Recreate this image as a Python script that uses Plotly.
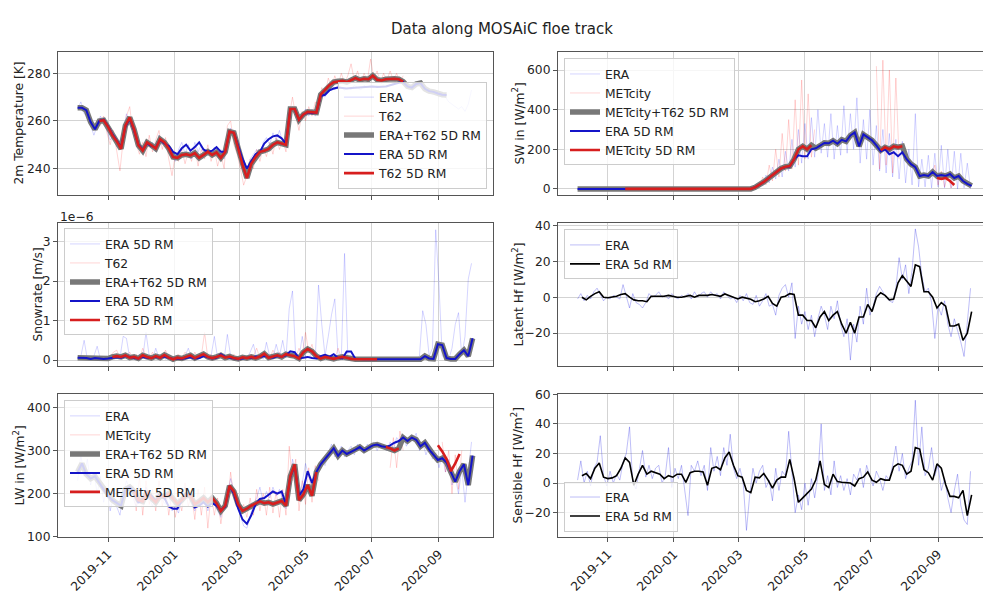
import pandas as pd
import plotly.graph_objects as go

N = None
RM_START, RM_STEP, N_RM = "2019-10-04", "4D", 92
RAW_START, RAW_STEP, N_RAW = "2019-10-04", "3D", 122
COMBO_END = "2020-08-20"

tick_dates = ["2019-11-01", "2020-01-01", "2020-03-01", "2020-05-01", "2020-07-01", "2020-09-01"]
tick_labels = ["2019-11", "2020-01", "2020-03", "2020-05", "2020-07", "2020-09"]

# ---------------- 2m temperature [K] ----------------
temp_era_rm = [265.5, 265.5, 264.5, 259.5, 256.5,
               260, 260.5, 257.8, 254.5, 252, 249, 257.5, 261, 256, 250, 248, 250.5, 249.5, 248.8, 252, 250.5,
               249.5, 247, 246, 248.5, 250, 247.5, 249, 251, 248, 247, 247.5, 249, 247, 247,
               255.5, 255,
               249.5, 244, 240, 243, 246, 247, 250.5, 252.3, 253.5, 253.9, 252.7, 250.5,
               265, 265, 260.5, 262.7, 263.5, 263.2, 263.5,
               270.5, 271, 272.8, 273.6, 274, 273.8, 273.6, 273.8, 274, 274, 274.2, 274.3, 274.5, 274.3, 274.3,
               274.5, 275, 275.6, 276, 276.3,
               274.5, 274, 275.5, 275.9, 273.5, 272.5, 272.2, 271.5, 271, 270.9,
               N, N, N, N, N, 271]
temp_t62_rm = [N, N, N, N, N,
               260, 260.3, 257.5, 254, 251.5, 248.3, 258, 261.5, 256.5, 249.8, 247.5, 251, 249.8, 248.4, 252.3, 251,
               248.4, 244.8, 244.5, 245.7, 246, 245.5, 246.5, 244.5, 245.7, 247.1, 245.7, 246.8, 244.5, 247,
               255.5, 255,
               248.4, 241.5, 236, 242, 244.8, 247, 247.5, 248.2, 250, 251, 250.5, 250,
               265, 265, 260.5, 262.7, 263.8, 263.5, 263.5,
               271, 272.9, 275, 276.3, 276.7, 276.8, 276.3, 277.3, 278, 277.2, 277.7, 277.5, 279, 277.3, 277,
               277.5, 277.7, 277.7, 277.5, 276.5,
               N, N, N, N, N, N, N, N, N, N, N, N, N, N, N, N]
temp_era_raw = [265, 268, 263, 262, 258, 254, 258, 262, 259, 256,
                252, 254, 249, 252, 255, 263, 260, 257, 252, 249,
                246, 252, 249, 251, 247, 254, 250, 252, 248, 246,
                243, 248, 251, 246, 250, 244, 251, 247, 250, 245,
                248, 246, 249, 246, 248, 244, 252, 257, 253, 250,
                246, 242, 238, 244, 246, 248, 245, 251, 253, 250,
                255, 252, 256, 251, 249, 258, 266, 263, 259, 262,
                265, 262, 265, 262, 268, 271, 270, 273, 275, 273,
                275, 274, 273, 274, 273, 275, 274, 273, 275, 274,
                275, 274, 275, 274, 275, 274, 275, 276, 277, 276,
                277, 274, 273, 275, 276, 275, 274, 272, 273, 271,
                272, 270, 271, 270, 268, 267, 266, 265, 266, 264,
                267, 273]
temp_t62_raw = [N, N, N, N, N, N, N,
                258, 262, 255,
                250, 256, 247, 239, 252, 262, 266, 255, 250, 246,
                251, 245, 254, 247, 252, 256, 248, 253, 244, 237,
                246, 243, 248, 242, 247, 243, 249, 241, 248, 244,
                250, 243, 248, 241, 246, 240, 258, 260, 250, 246,
                240, 233, 237, 244, 240, 248, 243, 249, 245, 251,
                246, 253, 248, 252, 247, 262, 270, 262, 256, 264,
                260, 266, 262, 268, 265, 274, 271, 278, 274, 279,
                275, 280, 276, 279, 284, 277, 281, 276, 280, 277,
                286, 278, 281, 276, 280, 277, 281, 277, 280, 276,
                279,
                N, N, N, N, N, N, N, N, N, N, N, N, N, N, N, N, N, N, N, N, N]

# ---------------- SW in [W/m2] ----------------
sw_era_rm = [0] * 41 + [8, 20, 35, 52, 70, 88, 103, 110, 113, 150,
                        170, 165, 165, 200, 205, 218, 232, 230, 243, 228,
                        248, 240, 270, 285, 215, 275, 262, 245, 220, 190,
                        200, 175, 185, 165, 185, 150, 125, 110, 65, 70,
                        65, 85, 65, 70, 65, 75, 55, 65, 40, 25, 15]
sw_met_rm = ([N] * 11 + [0] * 30 + [8, 20, 35, 52, 70, 88, 103, 112, 115]
             + [150, 200, 215, 200, 220] + [N] * 15 + [195, 210, 200, 215, 210, 215]
             + [N] * 7 + [55, 50, 55, 40, 20] + [N] * 4)
sw_era_raw = [0] * 53 + [2, 10, 5, 30, 15, 70, 30, 110, 50, 150,
                         60, 190, 90, 250, 110, 300, 130, 330, 150, 360,
                         160, 400, 180, 330, 160, 380, 150, 320, 170, 420,
                         180, 380, 200, 460, 130, 350, 150, 400, 120, 320,
                         90, 300, 80, 280, 60, 250, 50, 240, 30, 200,
                         20, 380, 10, 150, 10, 170, 5, 180, 10, 220,
                         5, 200, 5, 190, 0, 180, 5, 130, 0]
sw_met_raw = ([N] * 15 + [0] * 39
              + [5, 20, 10, 60, 20, 120, 40, 200, 60, 280, 90, 350, 100, 450, 120, 550, 150, 480, 160, 300]
              + [N] * 18 + [620, 100, 650, 120, 600, 80, 560, 150]
              + [N] * 9 + [60, 120, 20, 90, 10, 70, 5, 30] + [N] * 5)

# ---------------- Snowrate [1e-6 m/s] ----------------
snow_era_rm = ([0.06, 0.06, 0.05, 0.03, 0.05, 0.04, 0.03]
               + [0.04, 0.05, 0.07, 0.06, 0.10, 0.08, 0.05, 0.04, 0.08, 0.06,
                  0.05, 0.08, 0.06, 0.09, 0.05, 0.03, 0.04, 0.03, 0.05, 0.07,
                  0.04, 0.05, 0.10, 0.06, 0.04, 0.06, 0.15, 0.08, 0.06, 0.03,
                  0.02, 0.04, 0.06, 0.05, 0.09, 0.08, 0.10, 0.08, 0.06, 0.10,
                  0.08, 0.12, 0.22, 0.20, 0.05, 0.06, 0.08, 0.05, 0.04, 0.10,
                  0.13, 0.08, 0.15, 0.06, 0.04, 0.22, 0.22, 0.03, 0.02, 0.02,
                  0.02, 0.02, 0.02]
               + [0.02] * 10 + [0.10, 0.04, 0.03, 0.40, 0.38, 0.05, 0.03, 0.03, 0.15, 0.25, 0.10, 0.55])
snow_t62_rm = ([N] * 8
               + [0.08, 0.10, 0.08, 0.12, 0.06, 0.08, 0.04, 0.12, 0.08, 0.05,
                  0.10, 0.06, 0.13, 0.06, 0.02, 0.06, 0.04, 0.08, 0.12, 0.05,
                  0.10, 0.15, 0.08, 0.05, 0.08, 0.12, 0.06, 0.09, 0.05, 0.03,
                  0.07, 0.05, 0.08, 0.05, 0.09, 0.16, 0.06, 0.10, 0.12, 0.08,
                  0.15, 0.12, 0.10, 0.04, 0.20, 0.28, 0.22, 0.10, 0.04, 0.08,
                  0.05, 0.03, 0.06, 0.08, 0.06, 0.03, 0.02, 0.02, 0.02, 0.02,
                  0.02, 0.02]
               + [N] * 22)
snow_era_raw = [0.05, 0.1, 0.5, 0.02, 0.05, 0.1, 0.35, 0.02, 0.05, 0.1,
                0.02, 0.08, 0.15, 0.05, 0.6, 0.55, 0.05, 0.1, 0.02, 0.15,
                0.05, 0.7, 0.1, 0.02, 0.3, 0.05, 0.1, 0.02, 0.08, 0.02,
                0.1, 0.05, 0.02, 0.1, 0.3, 0.05, 0.02, 0.1, 0.05, 0.15,
                0.02, 0.1, 0.6, 0.05, 0.1, 0.02, 0.65, 0.1, 0.02, 0.08,
                0.02, 0.1, 0.05, 0.2, 0.4, 0.05, 0.15, 0.02, 0.45, 0.1,
                0.05, 0.4, 0.1, 0.5, 0.05, 1.3, 1.75, 0.1, 0.05, 0.6,
                0.1, 0.05, 0.2, 0.05, 1.9, 0.9, 0.1, 0.6, 1.15, 1.55,
                0.1, 0.05, 2.7, 0.1, 0.05, 0.02, 0.05, 0.02, 0.02, 0.02,
                0.02, 0.02, 0.02, 0.02, 0.02, 0.02, 0.02, 0.02, 0.02, 0.02,
                0.02, 0.02, 0.02, 0.05, 0.02, 0.1, 1.25, 0.9, 0.1, 0.3,
                3.3, 1.9, 0.1, 0.05, 0.02, 0.3, 0.9, 1.2, 0.1, 0.6,
                2.05, 2.45]
snow_t62_raw = ([N] * 10
                + [0.1, 0.2, 0.25, 0.05, 0.15, 0.1, 0.2, 0.05, 0.15, 0.02,
                   0.3, 0.1, 0.05, 0.2, 0.05, 0.15, 0.02, 0.25, 0.05, 0.1,
                   0.02, 0.15, 0.05, 0.2, 0.1, 0.02, 0.2, 0.05, 0.1, 0.7,
                   0.05, 0.15, 0.02, 0.1, 0.2, 0.05, 0.1, 0.02, 0.15, 0.05,
                   0.02, 0.1, 0.05, 0.15, 0.1, 0.3, 0.05, 0.2, 0.1, 0.05,
                   0.25, 0.1, 0.2, 0.05, 0.15, 0.2, 0.1, 0.05, 0.3, 0.1,
                   0.7, 0.2, 0.4, 0.05, 0.1, 0.02, 0.15, 0.05, 0.1, 0.02,
                   0.3, 0.05, 0.02, 0.05, 0.02, 0.02, 0.02, 0.02, 0.02, 0.02,
                   0.02, 0.02, 0.02]
                + [N] * 29)

# ---------------- Latent heat flux [W/m2] ----------------
lat_rm = [N, 0, -1.5, 0.5, 2, 3, 0, -0.3, 0.2, 0.5,
          1.5, 2, 0, -1.5, -2, -2, -2.5, 0.5, 0.5, 0.5,
          0.5, 1, 0.5, 0, 0, 0.5, 1, 0, 1, 1,
          1, 1.5, 1, 0.5, 1.8, 1, 0, -1, 0, -0.5,
          -1.2, -2.5, -2, -1, 0.5, -3.5, -5, 0, 0.5, 2,
          1.5, -10, -10, -13, -13, -17, -11, -8, -13, -10,
          -8, -15, -20, -14, -20, -11, -11, -4, -8, 0,
          2.5, 1, -1.5, -1, 8, 12, 9, 6, 18, 17,
          3, 3, 0, -6, -3, -5, -16, -16, -15, -24,
          -20, -8]
lat_raw = [-1, 2, -2, 1, -1, 3, 5, 1, -2, 0,
           -1, 1, 0, -1, 7, 0, -6, 2, -3, -4,
           -6, -3, 2, 0, 1, 3, 0, 1, -1, 2,
           0, -1, 1, 0, 2, -1, 3, 0, 2, 3,
           0, 3, 1, 2, -1, 3, 1, -1, 0, -3,
           1, -2, 2, -3, -4, 1, -5, -2, 2, -5,
           -4, -10, 1, 5, 7, 0, 8, -23, -5, -15,
           -8, -18, -10, -22, -12, -5, -10, -18, -5, -12,
           -2, -15, -22, -12, -35, -15, -25, -5, -15, 5,
           -10, -5, 2, 6, 3, 0, -2, -3, 5, 22,
           10, 18, 2, 15, 38, 28, 12, 3, 5, -3,
           -23, -5, -10, -2, -15, -22, -12, -18, -25, -33,
           -15, 5]

# ---------------- LW in [W/m2] ----------------
lw_era_rm = [250, 270, 245, 235, 240, 225, 210, 195, 185, 178,
             172, 210, 215, 205, 180, 185, 200, 195, 182, 200,
             190, 170, 165, 165, 185, 200, 200, 168, 172, 180,
             170, 178, 172, 162, 170, 218, 200, 165, 140, 130,
             150, 175, 188, 190, 198, 205, 200, 205, 175, 238,
             265, 195, 210, 252, 225, 250, 268, 280, 292, 305,
             288, 300, 292, 298, 302, 308, 300, 306, 312, 314,
             310, 308, 312, 318, 322, 330, 322, 330, 325, 310,
             318, 302, 290, 278, 282, 272, 250, 228, 252, 268,
             220, 288]
lw_met_rm = ([N] * 13
             + [205, 185, 182, 205, 190, 180, 195, 193, 200, 188,
                176, 185, 197, 195, 175, 182, 190, 180, 190, 178,
                160, 172, 218, 205, 175, 160, 165, 172, 177, 182,
                178, 180, 176, 180, 183, 172, 240, 268, 185, 198,
                220, 195, 250]
             + [N] * 15 + [308, 305, 300, 305] + [N] * 8
             + [312, 298, 280, 252, 270, 292] + [N] * 3)
lw_era_raw = [230, 290, 240, 280, 220, 250, 200, 240, 180, 210,
              160, 195, 170, 150, 200, 230, 210, 190, 170, 195,
              175, 215, 190, 170, 195, 210, 185, 175, 200, 160,
              170, 155, 190, 215, 195, 175, 160, 185, 170, 195,
              160, 185, 175, 160, 145, 175, 200, 235, 210, 180,
              150, 125, 120, 150, 175, 190, 215, 180, 205, 190,
              215, 195, 210, 185, 165, 200, 280, 250, 190, 225,
              270, 240, 215, 260, 250, 275, 265, 295, 315, 285,
              295, 310, 285, 300, 310, 290, 315, 300, 295, 315,
              305, 320, 300, 315, 305, 300, 320, 305, 330, 320,
              335, 310, 330, 325, 340, 300, 320, 290, 310, 280,
              295, 260, 290, 250, 280, 220, 240, 200, 260, 180,
              250, 320]
lw_met_raw = ([N] * 17
              + [220, 160, 240, 150, 230, 175, 210, 160, 230, 170,
                 215, 150, 200, 145, 190, 160, 225, 170, 200, 140,
                 210, 150, 215, 120, 200, 150, 190, 130, 180, 170,
                 250, 190, 200, 150, 175, 145, 190, 150, 210, 160,
                 200, 150, 215, 155, 205, 145, 210, 150, 310, 230,
                 280, 160, 230, 175, 260, 180, 265, 230]
              + [N] * 21 + [260, 330, 260, 345, 300] + [N] * 11
              + [320, 250, 300, 200, 290, 210, 300] + [N] * 3)

# ---------------- Sensible heat flux [W/m2] ----------------
sen_rm = [N, 5, 6.5, 3, 10, 13.5, 4, 3, 3.5, 5,
          10, 17, 14, -1.5, 6, 12, 6, 8, 7, 6,
          3, 5, 4, 6, 6, 0.5, 7, 8, 8, 7.5,
          -1.5, 10, 11, 9, 17, 21, 12, 5, 4, -5,
          -6.5, 4, 3.5, 6.5, 2, -3.5, 2, 4, 4, 16,
          3, -13, -10, -7, -4, 2, 15, -1, -3, 6,
          1, 0.5, 0.5, 0, -2, 3, 4, 7.5, 2, 0.5,
          3, 2, 2, 11, 13, 12, 6, 8, 24, 23,
          9, 7, 2, 13, 10, -1, -9, -9, -10, -5,
          -22, -8]
sen_raw = [2, 15, 0, 8, -2, 10, 14, 32, 5, -2,
           8, 0, 6, 2, 14, 20, 38, 0, -4, 10,
           22, 4, 12, 3, 10, 12, 0, 5, 24, -3,
           10, 3, 12, -5, -22, 12, 8, 15, 5, 12,
           -5, 24, 8, 18, 5, 24, 12, 33, 10, 3,
           10, 0, -32, -8, 10, 0, 8, 12, -3, 2,
           -12, 10, -5, 8, 5, 35, 10, -20, -8, -18,
           0, -15, 3, -10, 5, 40, -5, 5, -8, 15,
           -3, 5, -5, 3, -8, 6, 2, 10, -3, 12,
           5, -2, 8, 3, -5, 5, 2, 12, 25, 8,
           20, 3, 10, 15, 56, 12, 38, 5, 10, 24,
           5, 12, -5, 3, -10, -20, -5, 6, -15, -25,
           -28, 8]

for name, arr, n in [("temp_era_rm", temp_era_rm, N_RM), ("temp_t62_rm", temp_t62_rm, N_RM),
                     ("temp_era_raw", temp_era_raw, N_RAW), ("temp_t62_raw", temp_t62_raw, N_RAW),
                     ("sw_era_rm", sw_era_rm, N_RM), ("sw_met_rm", sw_met_rm, N_RM),
                     ("sw_era_raw", sw_era_raw, N_RAW), ("sw_met_raw", sw_met_raw, N_RAW),
                     ("snow_era_rm", snow_era_rm, N_RM), ("snow_t62_rm", snow_t62_rm, N_RM),
                     ("snow_era_raw", snow_era_raw, N_RAW), ("snow_t62_raw", snow_t62_raw, N_RAW),
                     ("lat_rm", lat_rm, N_RM), ("lat_raw", lat_raw, N_RAW),
                     ("lw_era_rm", lw_era_rm, N_RM), ("lw_met_rm", lw_met_rm, N_RM),
                     ("lw_era_raw", lw_era_raw, N_RAW), ("lw_met_raw", lw_met_raw, N_RAW),
                     ("sen_rm", sen_rm, N_RM), ("sen_raw", sen_raw, N_RAW)]:
    assert len(arr) == n, (name, len(arr), n)

rm_dates = pd.date_range(RM_START, periods=N_RM, freq=RM_STEP)
raw_dates = pd.date_range(RAW_START, periods=N_RAW, freq=RAW_STEP)


def combine(primary, fallback, end=None):
    out = []
    for d, p, f in zip(rm_dates, primary, fallback):
        if p is not None and (end is None or d < pd.Timestamp(end)):
            out.append(p)
        else:
            out.append(f)
    return out


temp_combo = combine(temp_t62_rm, temp_era_rm)
sw_combo = combine(sw_met_rm, sw_era_rm, COMBO_END)
snow_combo = combine(snow_t62_rm, snow_era_rm)
lw_combo = combine(lw_met_rm, lw_era_rm, COMBO_END)

FONT = "DejaVu Sans"
BLUE_RAW = "rgba(0,0,255,0.17)"
RED_RAW = "rgba(255,0,0,0.17)"
BLUE_RAW2 = "rgba(40,40,230,0.3)"
GRAY = "rgb(120,120,120)"
BLUE = "rgb(20,20,200)"
RED = "rgb(215,30,30)"

fig = go.Figure()


def add(x, y, name, color, width, ax, leg):
    fig.add_trace(go.Scatter(x=x, y=y, name=name, mode="lines",
                             line=dict(color=color, width=width),
                             xaxis="x" + ax, yaxis="y" + ax, legend=leg,
                             hoverinfo="skip"))


def standard(ax, leg, era_raw, o_raw, combo, era_rm, o_rm, labels):
    add(raw_dates, era_raw, labels[0], BLUE_RAW, 1, ax, leg)
    add(raw_dates, o_raw, labels[1], RED_RAW, 1, ax, leg)
    add(rm_dates, combo, labels[2], GRAY, 5.5, ax, leg)
    add(rm_dates, era_rm, labels[3], BLUE, 2, ax, leg)
    add(rm_dates, o_rm, labels[4], RED, 2.6, ax, leg)


standard("", "legend", temp_era_raw, temp_t62_raw, temp_combo, temp_era_rm, temp_t62_rm,
         ["ERA", "T62", "ERA+T62 5D RM", "ERA 5D RM", "T62 5D RM"])
standard("2", "legend2", sw_era_raw, sw_met_raw, sw_combo, sw_era_rm, sw_met_rm,
         ["ERA", "METcity", "METcity+T62 5D RM", "ERA 5D RM", "METcity 5D RM"])
standard("3", "legend3", snow_era_raw, snow_t62_raw, snow_combo, snow_era_rm, snow_t62_rm,
         ["ERA 5D RM", "T62", "ERA+T62 5D RM", "ERA 5D RM", "T62 5D RM"])
add(raw_dates, lat_raw, "ERA", BLUE_RAW2, 1, "4", "legend4")
add(rm_dates, lat_rm, "ERA 5d RM", "black", 1.6, "4", "legend4")
standard("5", "legend5", lw_era_raw, lw_met_raw, lw_combo, lw_era_rm, lw_met_rm,
         ["ERA", "METcity", "ERA+T62 5D RM", "ERA 5D RM", "METcity 5D RM"])
add(raw_dates, sen_raw, "ERA", BLUE_RAW2, 1, "6", "legend6")
add(rm_dates, sen_rm, "ERA 5d RM", "black", 1.6, "6", "legend6")

W, H = 983, 594
XL = [58 / W, 493 / W]
XR = [558 / W, 1.0]
ROWS = [[1 - 195 / H, 1 - 47 / H], [1 - 371 / H, 1 - 223 / H], [1 - 547 / H, 1 - 399 / H]]
XRANGE_L = ["2019-09-15 22:00", "2020-10-20 19:00"]
XRANGE_R = ["2019-09-15 22:00", "2020-10-12 12:00"]
AX = "#555555"
GRID = "#d3d3d3"
TF = dict(family=FONT, size=12.3, color="#222222")


def xax(dom, rng, anchor, labels):
    return dict(domain=dom, range=rng, type="date", anchor=anchor,
                tickvals=tick_dates, ticktext=tick_labels, showticklabels=labels,
                tickangle=-45, ticks="outside", ticklen=4, tickcolor=AX,
                showgrid=True, gridcolor=GRID, gridwidth=1, zeroline=False,
                showline=True, linecolor=AX, linewidth=1, mirror=True, tickfont=TF)


def yax(dom, rng, anchor, vals, mirror):
    return dict(domain=dom, range=rng, anchor=anchor, tickvals=vals,
                ticks="outside", ticklen=4, tickcolor=AX,
                showgrid=True, gridcolor=GRID, gridwidth=1, zeroline=False,
                showline=True, linecolor=AX, linewidth=1, mirror=mirror, tickfont=TF)


def ytitle(text, xpix, row):
    return dict(text=text, x=xpix / W, y=sum(ROWS[row]) / 2, xref="paper", yref="paper",
                showarrow=False, textangle=-90, xanchor="center", yanchor="middle", font=TF)


leg_common = dict(bgcolor="rgba(255,255,255,0.8)", bordercolor="#cccccc", borderwidth=1,
                  font=TF, itemwidth=30, tracegroupgap=0)

fig.update_layout(
    width=W, height=H, margin=dict(l=0, r=0, t=0, b=0),
    paper_bgcolor="white", plot_bgcolor="white",
    font=dict(family=FONT, size=12.3, color="#222222"),
    showlegend=True,
    xaxis=xax(XL, XRANGE_L, "y", False),
    yaxis=yax(ROWS[0], [228.7, 289.1], "x", [240, 260, 280], True),
    xaxis2=xax(XR, XRANGE_R, "y2", False),
    yaxis2=yax(ROWS[0], [-33, 693], "x2", [0, 200, 400, 600], False),
    xaxis3=xax(XL, XRANGE_L, "y3", False),
    yaxis3=yax(ROWS[1], [-0.16, 3.48], "x3", [0, 1, 2, 3], True),
    xaxis4=xax(XR, XRANGE_R, "y4", False),
    yaxis4=yax(ROWS[1], [-38.5, 41.5], "x4", [-20, 0, 20, 40], False),
    xaxis5=xax(XL, XRANGE_L, "y5", True),
    yaxis5=yax(ROWS[2], [98.7, 432], "x5", [100, 200, 300, 400], True),
    xaxis6=xax(XR, XRANGE_R, "y6", True),
    yaxis6=yax(ROWS[2], [-36.7, 60.5], "x6", [-20, 0, 20, 40, 60], False),
    legend=dict(x=487 / W, y=1 - 188 / H, xanchor="right", yanchor="bottom", **leg_common),
    legend2=dict(x=564 / W, y=1 - 54 / H, xanchor="left", yanchor="top", **leg_common),
    legend3=dict(x=64 / W, y=1 - 229 / H, xanchor="left", yanchor="top", **leg_common),
    legend4=dict(x=564 / W, y=1 - 230 / H, xanchor="left", yanchor="top", **leg_common),
    legend5=dict(x=64 / W, y=1 - 406 / H, xanchor="left", yanchor="top", **leg_common),
    legend6=dict(x=564 / W, y=1 - 541 / H, xanchor="left", yanchor="bottom", **leg_common),
    annotations=[
        dict(text="Data along MOSAiC floe track", x=502 / W, y=1 - 24 / H, xref="paper", yref="paper",
             showarrow=False, xanchor="center", yanchor="middle",
             font=dict(family=FONT, size=15, color="#222222")),
        dict(text="1e\u22126", x=58 / W, y=1 - 217 / H, xref="paper", yref="paper",
             showarrow=False, xanchor="left", yanchor="middle", font=TF),
        ytitle("2m Temperature [K]", 19, 0),
        ytitle("SW in [W/m<sup>2</sup>]", 518, 0),
        ytitle("Snowrate [m/s]", 37, 1),
        ytitle("Latent Hf [W/m<sup>2</sup>]", 517, 1),
        ytitle("LW in [W/m<sup>2</sup>]", 19, 2),
        ytitle("Sensible Hf [W/m<sup>2</sup>]", 517, 2),
    ],
)

fig.write_html("out.html", config={"displayModeBar": False})

# remove the browser's default page margin so the figure sits at the window origin
with open("out.html", encoding="utf-8") as f:
    html = f.read()
html = html.replace("<head>", "<head><style>html,body{margin:0;padding:0;overflow:hidden;}</style>", 1)
with open("out.html", "w", encoding="utf-8") as f:
    f.write(html)
